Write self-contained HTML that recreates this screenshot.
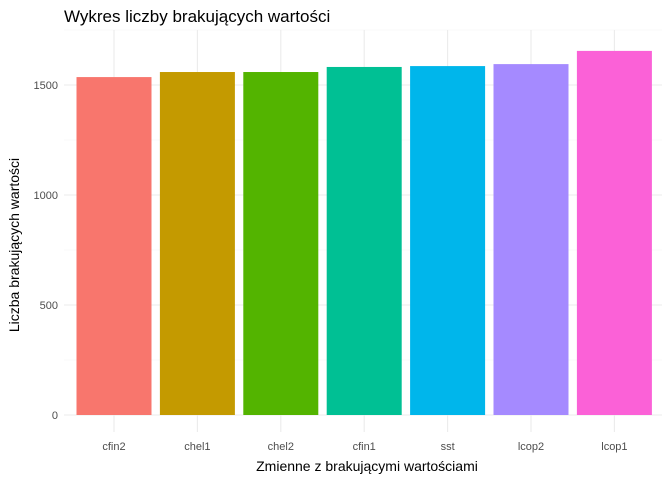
<!DOCTYPE html>
<html><head><meta charset="utf-8"><style>
body{margin:0;background:#fff;font-family:"Liberation Sans",sans-serif}
</style></head><body>
<svg id="c" width="672" height="480" xmlns="http://www.w3.org/2000/svg">
<text x="64" y="22" font-size="17" fill="#000">Wykres liczby brakujących wartości</text>
<g id="grid"></g><g id="bars"></g><g id="axes"></g>
<text x="367" y="471" font-size="14" text-anchor="middle" fill="#000">Zmienne z brakującymi wartościami</text>
<text transform="translate(19,245) rotate(-90)" font-size="14" text-anchor="middle" fill="#000">Liczba brakujących wartości</text>
</svg>
<script>
const categories=["cfin2","chel1","chel2","cfin1","sst","lcop2","lcop1"];
const values=[1536,1559,1559,1582,1586,1595,1655];
const colors=["#F8766D","#C49A00","#53B400","#00C094","#00B6EB","#A58AFF","#FB61D7"];
const yTicks=[0,500,1000,1500];
const NS="http://www.w3.org/2000/svg";
const y0=415,k=330/1500;
const y=v=>y0-v*k;
const step=83.4,x=i=>114+i*step,bw=75;
const L=64,R=662,T=30,B=432;
function mk(t,a,p){const e=document.createElementNS(NS,t);for(const n in a)e.setAttribute(n,a[n]);p.appendChild(e);return e;}
const g=document.getElementById('grid'),bg=document.getElementById('bars'),ax=document.getElementById('axes');
for(let v=250;v<=1750;v+=500){const yy=y(v);if(yy<T)continue;const l=mk('line',{x1:L,x2:R,y1:yy,y2:yy,stroke:'#f3f3f3','stroke-width':0.6},g);

}
yTicks.forEach(v=>{const l=mk('line',{x1:L,x2:R,y1:y(v),y2:y(v),stroke:'#ebebeb','stroke-width':1.1},g);


const t=mk('text',{x:58,y:y(v)+4,'font-size':11,'text-anchor':'end',fill:'#4d4d4d'},ax);t.textContent=v;

});
categories.forEach((c,i)=>{const l=mk('line',{x1:x(i),x2:x(i),y1:T,y2:B,stroke:'#ebebeb','stroke-width':1.1},g);


const r=mk('rect',{x:x(i)-bw/2,y:y(values[i]),width:bw,height:y0-y(values[i]),fill:colors[i]},bg);


const t=mk('text',{x:x(i),y:450,'font-size':11,'text-anchor':'middle',fill:'#4d4d4d'},ax);t.textContent=c;

});
</script>
</body></html>
